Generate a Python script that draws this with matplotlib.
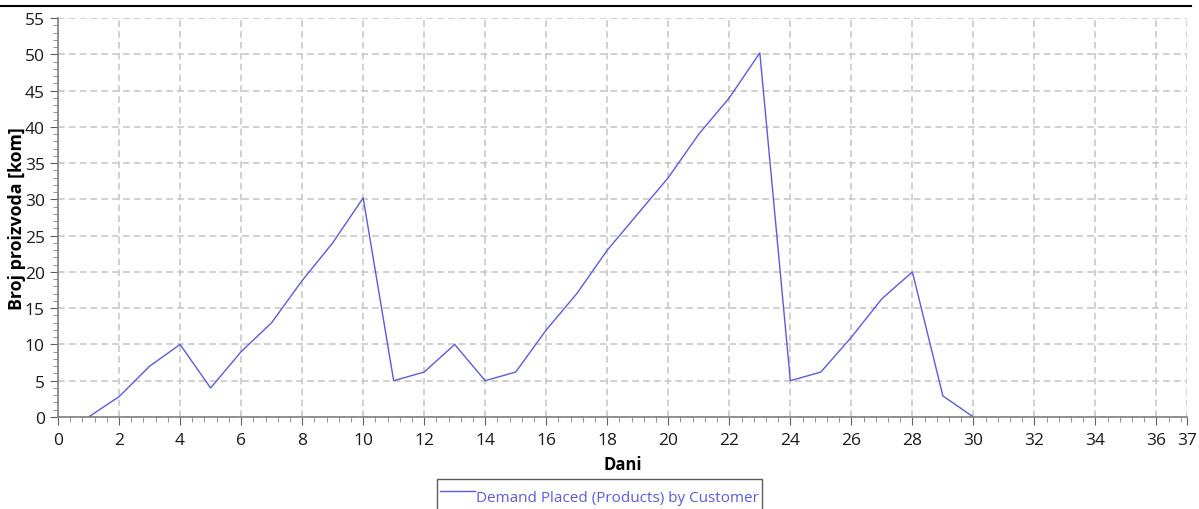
import matplotlib as mpl
mpl.use('Agg')
import matplotlib.pyplot as plt
from matplotlib.ticker import MultipleLocator, FixedLocator
from matplotlib.lines import Line2D

# data
days = [1, 2, 3, 4, 5, 6, 7, 8, 9, 10, 11, 12, 13, 14, 15, 16, 17, 18, 19, 20,
        21, 22, 23, 24, 25, 26, 27, 28, 29, 30]
demand = [0, 2.8, 7, 10, 4, 9, 13, 18.8, 24, 30.2, 5, 6.2, 10, 5, 6.2, 12, 17, 23, 28, 33,
          39, 44, 50.2, 5, 6.2, 11, 16.3, 20, 2.9, 0]
series_name = 'Demand Placed (Products) by Customer'
x_ticks = list(range(0, 37, 2)) + [37]

plt.rcParams['font.family'] = ['Open Sans', 'DejaVu Sans']
line_color = '#5b5bdc'

fig = plt.figure(figsize=(11.99, 5.10), dpi=100)
ax = fig.add_axes([0.0484, 0.1804, 0.9416, 0.7823])

ax.plot(days, demand, color=line_color, lw=1.0, label=series_name)

ax.set_xlim(0, 37)
ax.set_ylim(0, 55)
ax.xaxis.set_major_locator(FixedLocator(x_ticks))
ax.xaxis.set_minor_locator(MultipleLocator(0.4))
ax.yaxis.set_major_locator(MultipleLocator(5))
ax.yaxis.set_minor_locator(MultipleLocator(1))

ax.grid(True, which='major', color='#c8c8c8', ls=(0, (4, 2.5)), lw=1.2)
for s in ['top', 'right']:
    ax.spines[s].set_visible(False)
for s in ['left', 'bottom']:
    ax.spines[s].set_color('#808080')
    ax.spines[s].set_linewidth(1.2)

ax.tick_params(which='major', length=6, color='#606060', labelsize=12.5, labelcolor='#1a1a1a')
ax.tick_params(axis='x', which='major', pad=5)
ax.tick_params(which='minor', length=3.5, color='#808080')

ax.set_xlabel('Dani', fontsize=12, fontweight='bold', labelpad=5)
ax.set_ylabel('Broj proizvoda [kom]', fontsize=12.8, fontweight='bold', labelpad=-1)

handle = Line2D([], [], color=line_color, lw=1.0)
leg = fig.legend([handle], [series_name], loc='upper center', bbox_to_anchor=(0.5, 0.059),
                 fontsize=11, frameon=True, fancybox=False, handlelength=2.3, handleheight=2.5,
                 handletextpad=0.1, borderpad=0.2, borderaxespad=0, labelcolor=line_color)
leg.get_frame().set_edgecolor('#333333')
leg.get_frame().set_linewidth(1.0)

# thin rule across the top
fig.add_artist(Line2D([0, 0.993], [0.986, 0.986], color='black', lw=1.5, transform=fig.transFigure))

fig.savefig('out.png', dpi=100)
